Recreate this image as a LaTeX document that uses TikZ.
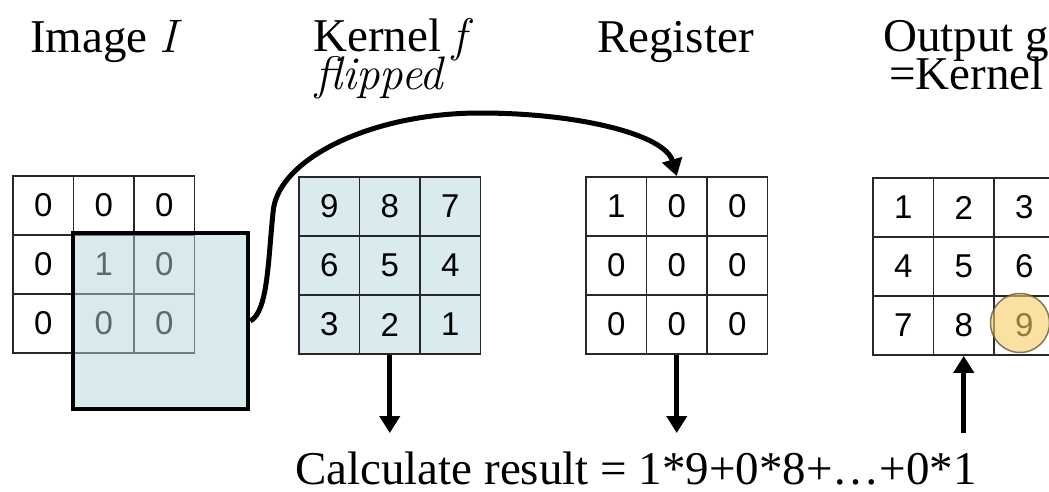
\documentclass[tikz,border=0pt]{standalone}
\usepackage{fontspec}
\setmainfont{Liberation Serif}
\newfontfamily\arialf{Liberation Sans}
\newcommand\tit[1]{{\fontfamily{lmr}\itshape #1}}
\usetikzlibrary{arrows.meta}
\definecolor{kblue}{RGB}{218,235,240}
\definecolor{oblue}{RGB}{180,215,225}
\definecolor{hlfill}{RGB}{247,205,100}
\definecolor{hldraw}{RGB}{90,80,50}
\definecolor{gridc}{RGB}{40,40,40}
\newcommand\mygrid[5]{%
  \foreach \v [count=\n from 0] in {#5} {
    \pgfmathtruncatemacro\rr{int(\n/3)+1}
    \pgfmathtruncatemacro\cc{mod(\n,3)+1}
    \node[cell,#4] (#1\rr\cc) at ({#2+(\cc-0.5)*60.5},{#3+(\rr-0.5)*59}) {\v};
  }}
\begin{document}
\begin{tikzpicture}[x=1pt,y=-1pt,
  cell/.style={draw=gridc, line width=1.8pt, minimum width=60.5pt, minimum height=59pt,
    inner sep=0pt, font=\arialf\fontsize{33}{38}\selectfont},
  kcell/.style={fill=kblue},
  title/.style={anchor=base west, inner sep=0pt, font=\fontsize{47}{56}\selectfont},
  arr/.style={line width=5pt, -{Triangle[length=17pt,width=20pt]}},
  overlay/.style={draw=black, line width=4.5pt, fill=oblue, fill opacity=0.5, draw opacity=1,
    minimum width=175pt, minimum height=176pt, inner sep=0pt},
  hl/.style={circle, minimum size=59pt, inner sep=0pt, fill=hlfill, fill opacity=0.6,
    draw=hldraw, draw opacity=0.75, line width=1.5pt}
]
\useasboundingbox (0,0) rectangle (1049,492);
\clip (0,0) rectangle (1049,492);
\fill[white] (0,0) rectangle (1049,492);

% titles
\node[title] (tImage) at (30,53) {Image \tit{I}};
\node[title] (tKernel) at (313,52) {Kernel \tit{f}};
\node[title] (tFlip) at (315,90) {\tit{flipped}};
\node[title] (tReg) at (597,53) {Register};
\node[title] (tOut) at (883,52) {Output g};
\node[title] (tOut2) at (889,90) {=Kernel};

% grids
\mygrid{i}{13}{176}{}{0,0,0,0,1,0,0,0,0}
\mygrid{k}{299}{177}{kcell}{9,8,7,6,5,4,3,2,1}
\mygrid{r}{586}{177}{}{1,0,0,0,0,0,0,0,0}
\mygrid{o}{873}{178}{}{1,2,3,4,5,6,7,8,9}

% overlay window
\node[overlay] (ov) at (160.5,321) {};

% highlight circle
\node[hl] (hl) at (1020,323) {};

% connectors
\coordinate (c1) at (273,213);
\coordinate (c2) at (480,113);
\draw[arr] (ov.east) .. controls (268,312) and (268,260) .. (c1)
  .. controls (276,160) and (370,113) .. (c2)
  .. controls (580,113) and (665,135) .. (r12.north);

\coordinate (kend) at (k32.south |- 0,433);
\coordinate (rend) at (r32.south |- 0,433);
\coordinate (ostart) at (o32.south |- 0,433);
\draw[arr] (k32.south) -- (kend);
\draw[arr] (r32.south) -- (rend);
\draw[arr] (ostart) -- (o32.south);

% bottom text
\node[title, text depth=0pt] (calc) at (295,484) {Calculate result = 1*9+0*8+\dots+0*1};
\end{tikzpicture}
\end{document}
